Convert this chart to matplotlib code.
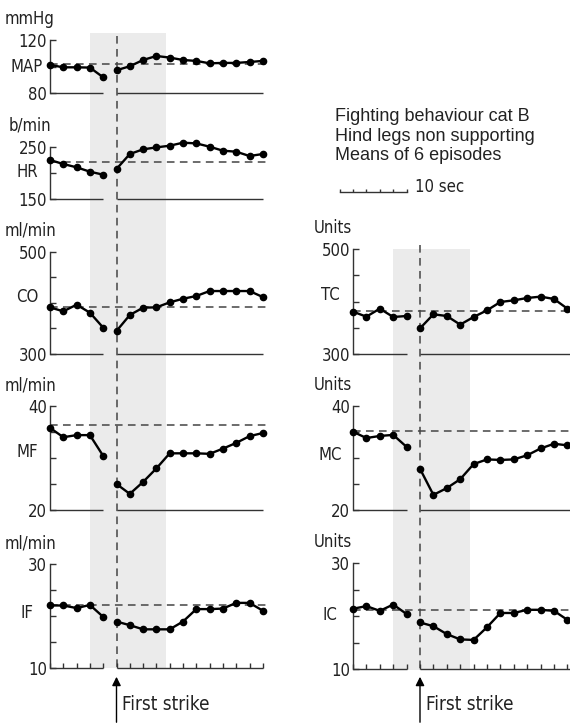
import matplotlib
matplotlib.use('Agg')
import matplotlib.pyplot as plt
import matplotlib.transforms as mtransforms

plt.rcParams['font.family'] = ['DejaVu Sans']
plt.rcParams['font.stretch'] = 'condensed'

# sample times (s), 2 s apart; first strike at t=0
t_pre = [-10, -8, -6, -4, -2]
t_post = [0, 2, 4, 6, 8, 10, 12, 14, 16, 18, 20, 22]

# left column
map_pre = [101.3, 99.5, 99.5, 99.3, 92.0]
map_post = [97.3, 100.3, 105.0, 108.0, 106.8, 105.0, 104.3, 102.5, 102.8, 102.8, 103.5, 104.3]
map_ref = 101.8

hr_pre = [224.7, 217.1, 210.8, 202.5, 196.8]
hr_post = [207.6, 236.1, 245.0, 248.7, 251.9, 257.6, 256.3, 250.0, 242.4, 240.5, 232.3, 236.1]
hr_ref = 220

co_pre = [391.2, 383.4, 396.4, 380.8, 351.5]
co_post = [345.0, 376.2, 390.6, 391.2, 401.0, 408.0, 413.4, 423.1, 423.1, 423.1, 423.1, 411.4]
co_ref = 391

mf_pre = [35.8, 34.0, 34.4, 34.4, 30.4]
mf_post = [25.0, 23.1, 25.4, 28.0, 30.9, 30.9, 30.9, 30.8, 31.8, 32.9, 34.2, 34.8]
mf_ref = 36.3

if_pre = [22.0, 22.0, 21.5, 22.1, 19.8]
if_post = [18.9, 18.2, 17.4, 17.4, 17.4, 18.9, 21.3, 21.3, 21.4, 22.5, 22.5, 21.0]
if_ref = 22.0

# right column
tc_pre = [380.9, 371.3, 386.6, 370.7, 372.6]
tc_post = [349.0, 375.8, 372.6, 356.1, 370.7, 383.4, 399.4, 402.5, 407.0, 409.6, 405.1, 386.6]
tc_ref = 382

mc_pre = [35.0, 33.8, 34.2, 34.4, 32.1]
mc_post = [27.9, 22.9, 24.2, 25.9, 28.8, 29.7, 29.6, 29.7, 30.5, 31.8, 32.7, 32.4]
mc_ref = 35.2

ic_pre = [21.4, 21.9, 21.0, 22.2, 20.4]
ic_post = [18.8, 18.1, 16.6, 15.6, 15.5, 17.9, 20.6, 20.6, 21.2, 21.2, 21.0, 19.3]
ic_ref = 21.2

W, H = 570.0, 723.0
fig = plt.figure(figsize=(W / 100, H / 100), dpi=100)

# column geometry: left spine px, px per second, right end (s), shade/line top px
cols = {
    'L': dict(x0=50, rate=6.65, xmax=22.8, top=33, vtop=36, base=668),
    'R': dict(x0=353, rate=6.7, xmax=22.6, top=249, vtop=245, base=670),
}
shade = (-4.0, 7.5)

LW_AX = 1.0
AXC = '#333333'
DASH = '#444444'


def col_rect(c, ytop, ybot):
    g = cols[c]
    return [g['x0'] / W, 1 - ybot / H, (g['xmax'] + 10) * g['rate'] / W, (ybot - ytop) / H]


# background axes for shading, strike line and arrow (y in px from the top)
bgs = {}
for c, g in cols.items():
    bg = fig.add_axes(col_rect(c, 0, H), zorder=0)
    bg.set_xlim(-10, g['xmax'])
    bg.set_ylim(H, 0)
    bg.axis('off')
    bg.fill_between(shade, g['top'], g['base'], color='#ebebeb', lw=0)
    bg.plot([0, 0], [g['vtop'], g['base']], color=DASH, lw=1.1, ls=(0, (5, 3.5)))
    bg.annotate('', xy=(0, 674), xytext=(0, H + 2),
                arrowprops=dict(arrowstyle='-|>', color='k', lw=1, mutation_scale=13),
                annotation_clip=False)
    bg.text(0.9, 705, 'First strike', fontsize=13.5, ha='left', va='center', color='#222222')
    bgs[c] = bg

panels = [
    ('L', 40, 93.3, (80, 120), [80, 100, 120], 'mmHg', 'MAP', 100, map_pre, map_post, map_ref),
    ('L', 146.7, 199.3, (150, 250), [150, 200, 250], 'b/min', 'HR', 202, hr_pre, hr_post, hr_ref),
    ('L', 251.7, 354, (300, 500), [300, 350, 400, 450, 500], 'ml/min', 'CO', 411, co_pre, co_post, co_ref),
    ('L', 406, 510, (20, 40), [20, 25, 30, 35, 40], 'ml/min', 'MF', 31.2, mf_pre, mf_post, mf_ref),
    ('L', 564, 667.7, (10, 30), [10, 15, 20, 25, 30], 'ml/min', 'IF', 20.6, if_pre, if_post, if_ref),
    ('R', 249.3, 354, (300, 500), [300, 350, 400, 450, 500], 'Units', 'TC', 412, tc_pre, tc_post, tc_ref),
    ('R', 405.7, 510, (20, 40), [20, 25, 30, 35, 40], 'Units', 'MC', 30.5, mc_pre, mc_post, mc_ref),
    ('R', 563.3, 669, (10, 30), [10, 15, 20, 25, 30], 'Units', 'IC', 20.2, ic_pre, ic_post, ic_ref),
]

for c, ytop, ybot, ylim, yticks, unit, name, name_y, pre, post, ref in panels:
    g = cols[c]
    ax = fig.add_axes(col_rect(c, ytop, ybot), zorder=2)
    ax.patch.set_visible(False)
    ax.set_xlim(-10, g['xmax'])
    ax.set_ylim(*ylim)
    for s in ['top', 'right', 'bottom']:
        ax.spines[s].set_visible(False)
    ax.spines['left'].set_color(AXC)
    ax.spines['left'].set_linewidth(LW_AX)

    ax.set_yticks(yticks)
    ax.set_yticklabels([str(yticks[0])] + [''] * (len(yticks) - 2) + [str(yticks[-1])])
    ax.tick_params(axis='y', direction='in', length=4, width=LW_AX, color=AXC,
                   pad=2, labelsize=12, labelcolor='#222222')

    bottom_panel = name in ('IF', 'IC')
    if bottom_panel:
        ax.set_xticks(t_pre + t_post)
        ax.tick_params(axis='x', direction='in', length=3.5, width=LW_AX, color=AXC,
                       labelbottom=False)
    else:
        ax.set_xticks([])

    # split baseline
    post_end = 22 if c == 'L' else g['xmax']
    ax.hlines(ylim[0], -10, -2, color=AXC, lw=LW_AX, clip_on=False)
    ax.hlines(ylim[0], 0, post_end, color=AXC, lw=LW_AX, clip_on=False)

    # reference level
    ax.axhline(ref, color=DASH, lw=1.1, ls=(0, (5, 3.5)), zorder=1)

    for tt, vv in ((t_pre, pre), (t_post, post)):
        ax.plot(tt, vv, color='k', lw=1.7, marker='o', ms=4.5, clip_on=False, zorder=3)

    off = mtransforms.offset_copy(ax.transAxes, fig=fig, x=-20, y=21, units='dots')
    ax.text(0, 1, unit, transform=off, ha='center', va='center', fontsize=12, color='#222222')
    offn = mtransforms.blended_transform_factory(
        mtransforms.offset_copy(ax.transAxes, fig=fig, x=-23, y=0, units='dots'), ax.transData)
    ax.text(0, name_y, name, transform=offn, ha='center', va='center', fontsize=12,
            color='#222222')

# legend text and 10 s scale bar (right column)
fig.text(335 / W, 1 - 108 / H, 'Fighting behaviour cat B\nHind legs non supporting\nMeans of 6 episodes',
         family='Liberation Sans', stretch='normal', fontsize=13, ha='left', va='top',
         linespacing=1.2, color='#222222')
bg = bgs['R']
bar_t = [-12, -10, -8, -6, -4, -2]
bg.plot([bar_t[0], bar_t[-1]], [192, 192], color=AXC, lw=1, clip_on=False)
bg.vlines(bar_t, 189, 192, color=AXC, lw=1, clip_on=False)
bg.text(-0.8, 187, '10 sec', fontsize=12, ha='left', va='center', color='#222222')

fig.savefig('out.png', dpi=100)
